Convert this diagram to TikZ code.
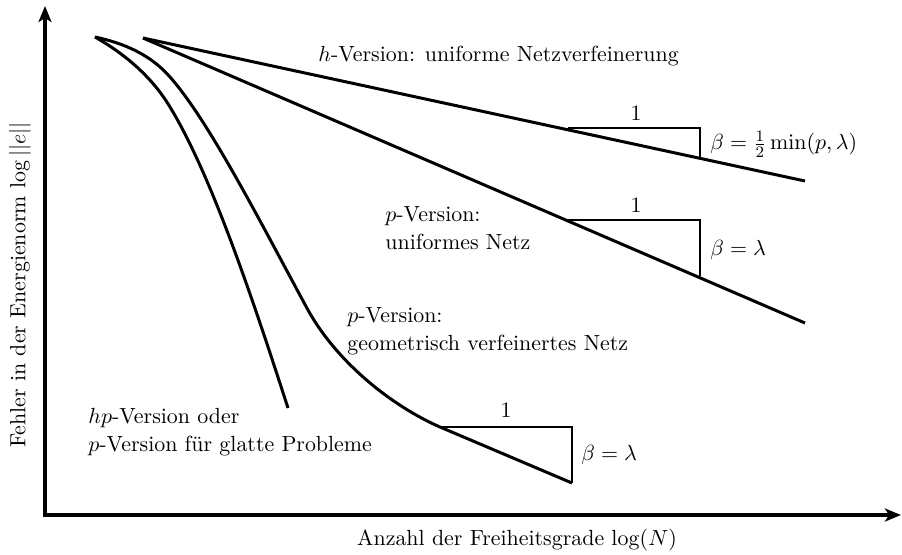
\documentclass[tikz,border=0pt]{standalone}
\usetikzlibrary{arrows.meta}
\begin{document}
\begin{tikzpicture}[x=0.5pt,y=-0.5pt,
  curve/.style={line width=1.5pt, line join=round},
  tri/.style={line width=1.4pt, line join=miter},
  axis/.style={line width=2pt,-{Stealth[length=8pt,width=6.5pt,inset=2pt]}},
  lbl/.style={inner sep=0pt, anchor=west, align=left, font=\fontsize{10.95}{14}\selectfont},
  one/.style={inner sep=0pt, font=\fontsize{10.95}{14}\selectfont}]
\useasboundingbox (0,0) rectangle (902,554);
% axes
\coordinate (O) at (45,515);
\coordinate (ytip) at (45,6);
\coordinate (xtip) at (901,515);
\draw[axis] ([yshift=-1pt]O) -- (ytip);
\draw[axis] ([xshift=-1pt]O) -- (xtip);
% h-version and p-version uniform
\coordinate (s1) at (143,38);
\coordinate (hend) at (805,181);
\coordinate (pend) at (805,323);
\draw[curve] (s1) -- (hend);
\draw[curve] (s1) -- (pend);
% slope triangles
\coordinate (h1) at (568,128); \coordinate (h2) at (700,128); \coordinate (h3) at (700,157);
\draw[tri] (h1) -- (h2) -- (h3);
\coordinate (u1) at (568,220); \coordinate (u2) at (700,220); \coordinate (u3) at (700,276);
\draw[tri] (u1) -- (u2) -- (u3);
\coordinate (g1) at (440,427); \coordinate (g2) at (572,427); \coordinate (g3) at (572,483);
\draw[tri] (g1) -- (g2) -- (g3);
% hp curve
\coordinate (s0) at (95,37);
\coordinate (hpend) at (288,408);
\draw[curve] (s0) .. controls (125,54) and (152,77) .. (170,107)
  .. controls (212,176) and (254,303) .. (hpend);
% p geometric curve
\draw[curve] (s0) .. controls (123,43) and (150,54) .. (170,77)
  .. controls (210,122) and (265,231) .. (308,310)
  .. controls (338,364) and (394,407) .. (g1) -- (g3);
% labels
\node[lbl] (lh) at (318,56) {$h$-Version: uniforme Netzverfeinerung};
\node[one] (o1) at (636,113) {1};
\node[lbl] (bh) at (710,144) {$\beta=\frac{1}{2}\min(p,\lambda)$};
\node[lbl] (lu) at (385,228) {$p$-Version:\\uniformes Netz};
\node[one] (o2) at (636,205) {1};
\node[lbl] (bu) at (710,250) {$\beta=\lambda$};
\node[lbl] (lg) at (347,331) {$p$-Version:\\geometrisch verfeinertes Netz};
\node[one] (o3) at (506,410) {1};
\node[lbl] (bg) at (581,455) {$\beta=\lambda$};
\node[lbl] (lhp) at (88,432) {$hp$-Version oder\\$p$-Version f\"ur glatte Probleme};
\node[one, rotate=90] (ylab) at (20,285) {Fehler in der Energienorm $\log||e||$};
\node[one] (xlab) at (517,540) {Anzahl der Freiheitsgrade $\log(N)$};
\end{tikzpicture}
\end{document}
